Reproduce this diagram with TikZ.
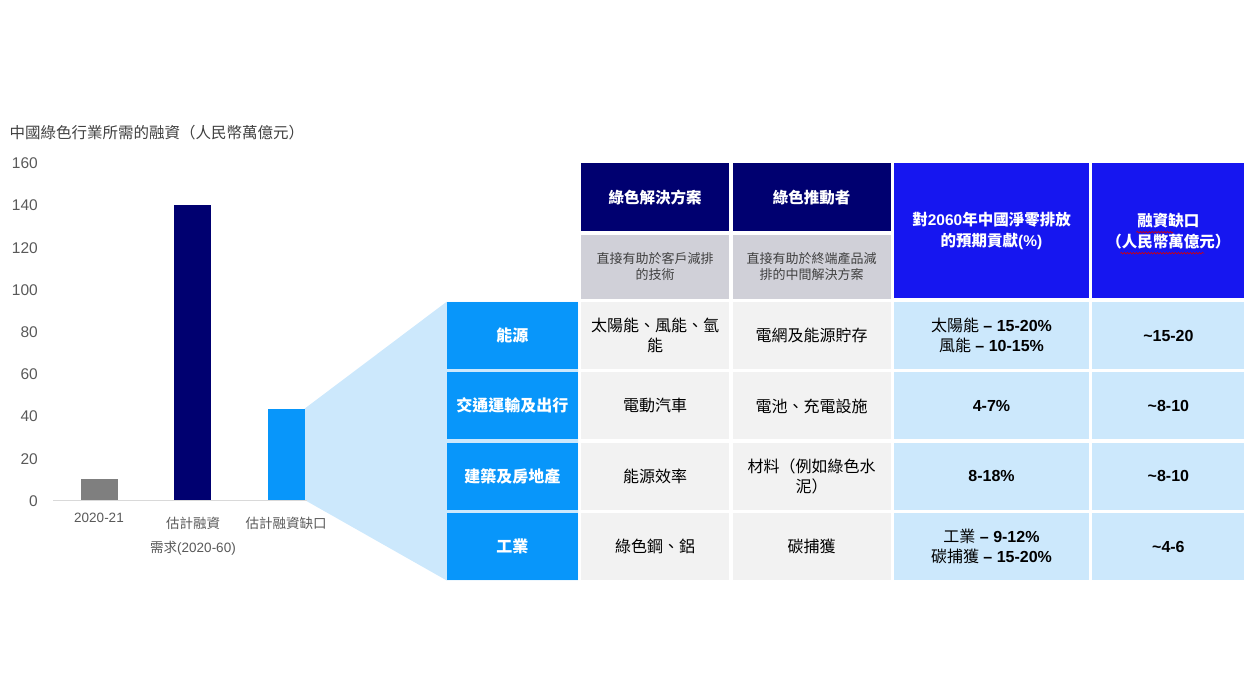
\documentclass[tikz,border=0pt]{standalone}
\usepackage{fontspec}
\setmainfont{Noto Sans CJK TC}
\newfontfamily\latin{Liberation Sans}
\usetikzlibrary{positioning}
\usetikzlibrary{backgrounds}
\usetikzlibrary{decorations.pathmorphing}
\definecolor{barnavy}{RGB}{0,0,112}
\definecolor{bargray}{RGB}{127,127,127}
\definecolor{barblue}{RGB}{8,150,250}
\definecolor{headblue}{RGB}{22,22,240}
\definecolor{subgray}{RGB}{208,208,216}
\definecolor{cellgray}{RGB}{242,242,242}
\definecolor{cellblue}{RGB}{204,232,252}
\definecolor{txtgray}{RGB}{89,89,89}
\newcommand\bnum[1]{{\latin\bfseries #1}}

\begin{document}
\begin{tikzpicture}
	[x=1pt, y=-1pt,
	bar/.style = {inner sep=0pt, minimum width=37pt, anchor=south},
	ytick/.style = {anchor=east, inner sep=0pt, text=txtgray, font=\latin\fontsize{15.5}{18}\selectfont},
	xlab/.style = {text=txtgray, align=center, font=\fontsize{13.5}{18}\selectfont},
	head/.style = {inner sep=0pt, text=white, align=center, font=\bfseries\fontsize{15.5}{21}\selectfont},
	sub/.style = {inner sep=0pt, fill=subgray, text=black!75, align=center, minimum height=64pt, font=\fontsize{13}{16}\selectfont},
	rowh/.style = {inner sep=0pt, fill=barblue, text=white, minimum width=131pt, minimum height=67pt, font=\bfseries\fontsize{16}{20}\selectfont},
	cell/.style = {inner sep=0pt, align=center, minimum height=67pt, font=\fontsize{16}{20}\selectfont},
	squiggle/.style = {red!85!black, line width=0.6pt, decorate, decoration={snake, segment length=3pt, amplitude=0.8pt}}]
	\useasboundingbox (0,0) rectangle (1248,700);
	\node[anchor=west, text=black!75, font=\fontsize{15.5}{18}\selectfont] (title) at (6,133) {中國綠色行業所需的融資（人民幣萬億元）};
	\node[ytick] (t160) at (38,163.4) {160};
	\node[ytick] (t140) at (38,205.6) {140};
	\node[ytick] (t120) at (38,247.8) {120};
	\node[ytick] (t100) at (38,290) {100};
	\node[ytick] (t80) at (38,332.2) {80};
	\node[ytick] (t60) at (38,374.4) {60};
	\node[ytick] (t40) at (38,416.6) {40};
	\node[ytick] (t20) at (38,458.8) {20};
	\node[ytick] (t0) at (38,501) {0};
	\coordinate (o) at (53,500);
	\coordinate (xend) at (307,500);
	\draw[black!15, line width=1pt] (o) -- (xend);
	\node[bar, fill=bargray, minimum height=21pt] (bar1) at (99.5,500) {};
	\node[bar, fill=barnavy, minimum height=295pt] (bar2) at (192.5,500) {};
	\node[bar, fill=barblue, minimum height=91pt] (bar3) at (286,500) {};
	\node[xlab] (c1) at (99,518) {\latin 2020-21};
	\node[xlab] (c2) at (193,523) {估計融資};
	\node[xlab] (c3) at (286,523) {估計融資缺口};
	\node[xlab] (c4) at (193,548) {需求{\latin (2020-60)}};

	\node[head, fill=barnavy, minimum width=148pt, minimum height=68pt, anchor=north west] (sol) at (581,163) {綠色解決方案};
	\node[head, fill=barnavy, minimum width=158pt, minimum height=68pt, right=3pt of sol] (ena) {綠色推動者};
	\node[sub, minimum width=148pt, below=3pt of sol] (solsub) {直接有助於客戶減排\\的技術};
	\node[sub, minimum width=158pt, below=3pt of ena] (enasub) {直接有助於終端產品減\\排的中間解決方案};
	\node[head, fill=headblue, minimum width=195pt, minimum height=135pt, right=3pt of ena.north east, anchor=north west] (contrib) {對{\latin 2060}年中國淨零排放\\的預期貢獻{\latin (\%)}};
	\node[head, fill=headblue, minimum width=152pt, minimum height=135pt, right=3pt of contrib] (gap) {融資缺口\\（人民幣萬億元）};
	\coordinate (w1) at ([shift={(-32,1.5)}]gap.center);
	\coordinate (w2) at ([shift={(5,1.5)}]gap.center);
	\coordinate (w3) at ([shift={(-48,22.5)}]gap.center);
	\coordinate (w4) at ([shift={(36,22.5)}]gap.center);
	\draw[squiggle] (w1) -- (w2);
	\draw[squiggle] (w3) -- (w4);

	\node[cell, fill=cellgray, minimum width=148pt, below=3pt of solsub] (e1) {太陽能、風能、氫\\能};
	\node[rowh, left=3pt of e1] (energy) {能源};
	\node[cell, fill=cellgray, minimum width=158pt, right=3pt of e1] (e2) {電網及能源貯存};
	\node[cell, fill=cellblue, minimum width=195pt, right=3pt of e2] (e3) {太陽能\bnum{ – 15-20\%}\\風能\bnum{ – 10-15\%}};
	\node[cell, fill=cellblue, minimum width=152pt, right=3pt of e3] (e4) {\bnum{\textasciitilde15-20}};

	\node[cell, fill=cellgray, minimum width=148pt, below=3pt of e1] (t1) {電動汽車};
	\node[rowh, left=3pt of t1] (transport) {交通運輸及出行};
	\node[cell, fill=cellgray, minimum width=158pt, right=3pt of t1] (t2) {電池、充電設施};
	\node[cell, fill=cellblue, minimum width=195pt, right=3pt of t2] (t3) {\bnum{4-7\%}};
	\node[cell, fill=cellblue, minimum width=152pt, right=3pt of t3] (t4) {\bnum{\textasciitilde8-10}};

	\node[cell, fill=cellgray, minimum width=148pt, below=3pt of t1] (b1) {能源效率};
	\node[rowh, left=3pt of b1] (building) {建築及房地產};
	\node[cell, fill=cellgray, minimum width=158pt, right=3pt of b1] (b2) {材料（例如綠色水\\泥）};
	\node[cell, fill=cellblue, minimum width=195pt, right=3pt of b2] (b3) {\bnum{8-18\%}};
	\node[cell, fill=cellblue, minimum width=152pt, right=3pt of b3] (b4) {\bnum{\textasciitilde8-10}};

	\node[cell, fill=cellgray, minimum width=148pt, below=3pt of b1] (i1) {綠色鋼、鋁};
	\node[rowh, left=3pt of i1] (industry) {工業};
	\node[cell, fill=cellgray, minimum width=158pt, right=3pt of i1] (i2) {碳捕獲};
	\node[cell, fill=cellblue, minimum width=195pt, right=3pt of i2] (i3) {工業\bnum{ – 9-12\%}\\碳捕獲\bnum{ – 15-20\%}};
	\node[cell, fill=cellblue, minimum width=152pt, right=3pt of i3] (i4) {\bnum{\textasciitilde4-6}};

	\begin{scope}[on background layer]
		\fill[cellblue] (bar3.north east) -- (energy.north west) -- (energy.north east) -- (industry.south east) -- (industry.south west) -- (bar3.south east) -- cycle;
	\end{scope}
\end{tikzpicture}
\end{document}
